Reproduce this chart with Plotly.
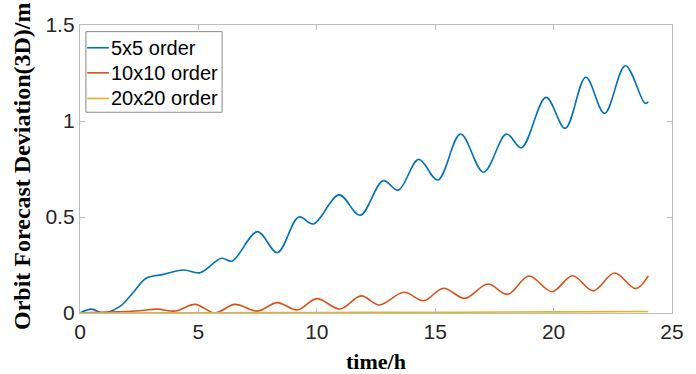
import plotly.graph_objects as go

# Orbit forecast deviation (3D) over 24 h for three gravity-field truncation orders
t_5x5 = [0, 0.49, 0.97, 1.67, 2.2, 2.78, 3.47, 4.375, 5.07, 5.97, 6.42, 7.5, 8.33,
         9.24, 9.86, 10.94, 11.83, 12.8, 13.44, 14.3, 15.11, 16.07, 17.04, 18.01,
         18.64, 19.68, 20.49, 21.36, 22.15, 23.03, 23.86, 24.0]
v_5x5 = [0, 0.02, 0.0, 0.033, 0.10, 0.18, 0.20, 0.224, 0.21, 0.285, 0.27, 0.424, 0.314,
         0.50, 0.464, 0.615, 0.509, 0.689, 0.64, 0.80, 0.693, 0.932, 0.733, 0.932,
         0.861, 1.123, 0.962, 1.228, 1.04, 1.288, 1.092, 1.10]

t_10x10 = [0, 0.8, 1.6, 2.5, 3.26, 4.03, 4.86, 5.7, 6.53, 7.5, 8.33, 9.17, 10.0, 10.97,
           11.875, 12.64, 13.68, 14.51, 15.35, 16.25, 17.22, 18.06, 18.96, 19.93,
           20.8, 21.67, 22.57, 23.47, 24.0]
v_10x10 = [0, 0.004, 0.006, 0.012, 0.02, 0.01, 0.045, 0.0, 0.045, 0.01, 0.054, 0.016,
           0.075, 0.021, 0.089, 0.042, 0.108, 0.064, 0.129, 0.076, 0.151, 0.097,
           0.193, 0.111, 0.194, 0.115, 0.208, 0.127, 0.193]

t_20x20 = [0, 4, 8, 12, 16, 20, 24]
v_20x20 = [0, 0.001, 0.002, 0.003, 0.004, 0.006, 0.008]

x_ticks = [0, 5, 10, 15, 20, 25]
y_ticks = [0, 0.5, 1, 1.5]
y_tick_text = ["0", "0.5", "1", "1.5"]

series = [
    ("5x5 order", t_5x5, v_5x5, "#0072BD"),
    ("10x10 order", t_10x10, v_10x10, "#D95319"),
    ("20x20 order", t_20x20, v_20x20, "#EDB120"),
]

fig = go.Figure()
for name, tx, vy, color in series:
    fig.add_trace(go.Scatter(
        x=tx, y=vy, name=name, mode="lines", showlegend=False,
        line=dict(color=color, width=1.6, shape="spline", smoothing=1.0),
    ))

axis_common = dict(
    showline=True, linecolor="#bdbdbd", linewidth=1.3, mirror="ticks",
    ticks="inside", ticklen=5, tickcolor="#bdbdbd", tickwidth=1,
    showgrid=False, zeroline=False,
    tickfont=dict(family="Liberation Sans, Arial, sans-serif", size=21, color="#262626"),
)

# Boxed legend in the upper-left corner of the axes (paper coordinates)
legend_box = dict(x0=0.01, x1=0.24, y0=0.697, y1=0.977)
legend_rows = [0.921, 0.834, 0.745]
shapes = [dict(type="rect", xref="paper", yref="paper", layer="above",
               line=dict(color="#8a8a8a", width=1), fillcolor="white", **legend_box)]
annotations = []
for (name, _, _, color), ry in zip(series, legend_rows):
    shapes.append(dict(type="line", xref="paper", yref="paper", layer="above",
                       x0=0.0122, x1=0.0488, y0=ry, y1=ry,
                       line=dict(color=color, width=1.6)))
    annotations.append(dict(text=name, xref="paper", yref="paper", x=0.0495, y=ry,
                            xanchor="left", yanchor="middle", showarrow=False,
                            font=dict(family="Liberation Sans, Arial, sans-serif",
                                      size=20, color="#000000")))

annotations += [
    dict(text="<b>time/h</b>", xref="paper", yref="paper",
         x=0.5, y=-0.17, xanchor="center", yanchor="middle", showarrow=False,
         font=dict(family="Liberation Serif, Times New Roman, serif", size=22, color="#000000")),
    dict(text="<b>Orbit Forecast Deviation(3D)/m</b>", xref="paper", yref="paper",
         x=-0.097, y=0.509, xanchor="center", yanchor="middle", showarrow=False, textangle=-90,
         font=dict(family="Liberation Serif, Times New Roman, serif", size=24, color="#000000")),
]

fig.update_layout(
    width=696, height=374,
    margin=dict(l=80, r=16, t=25, b=61),
    paper_bgcolor="white", plot_bgcolor="white",
    showlegend=False,
    xaxis=dict(range=[0, 25], tickvals=x_ticks, **axis_common),
    yaxis=dict(range=[0, 1.5], tickvals=y_ticks, ticktext=y_tick_text, **axis_common),
    shapes=shapes,
    annotations=annotations,
)

fig.write_html("out.html")
